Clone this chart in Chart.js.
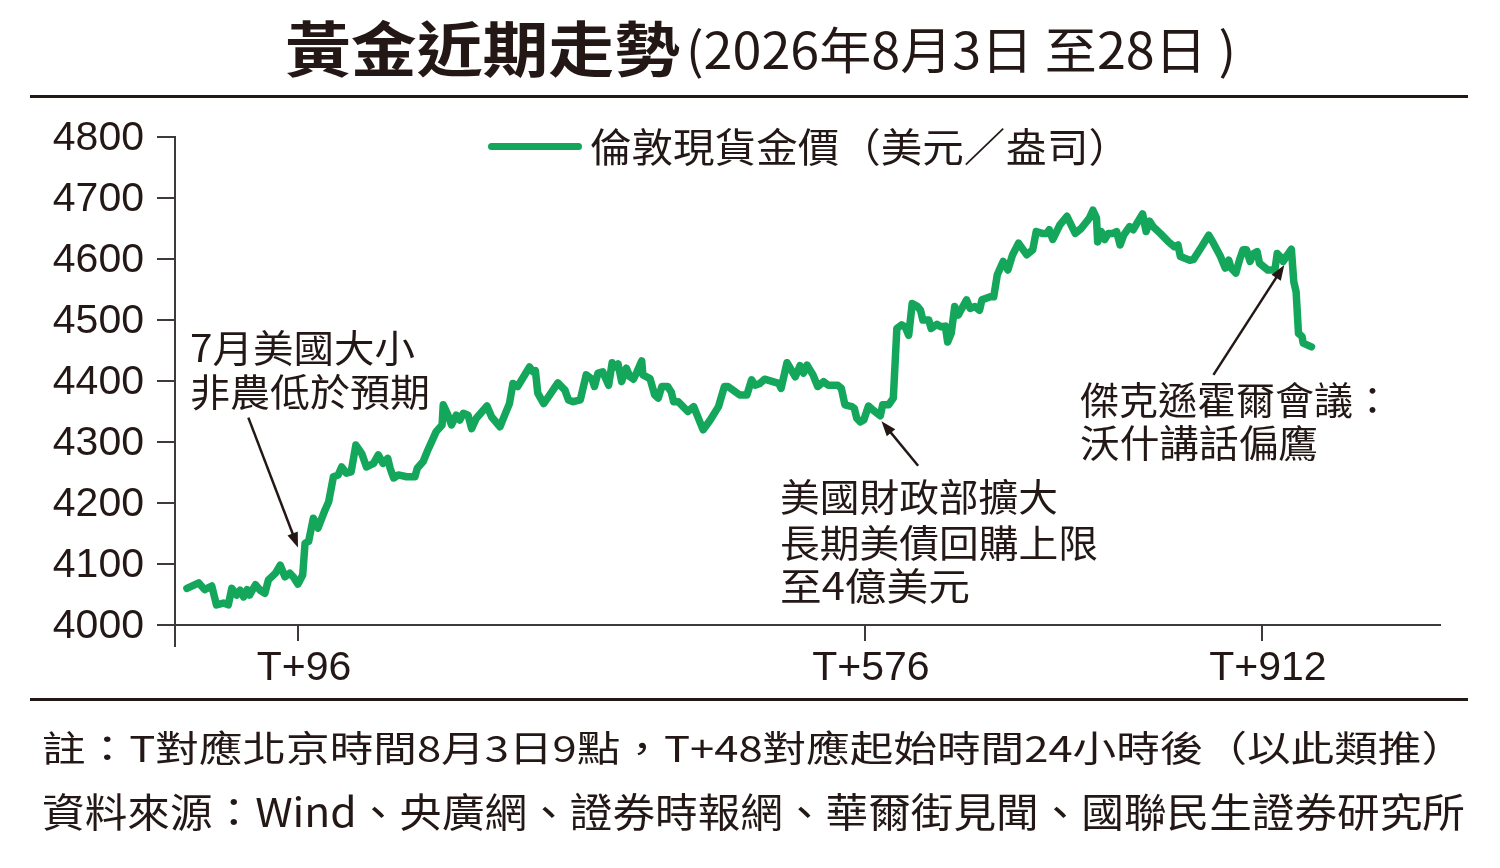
<!DOCTYPE html>
<html><head><meta charset="utf-8">
<script src="https://cdn.jsdelivr.net/npm/chart.js@4.4.1/dist/chart.umd.min.js"></script>
<style>
html,body{margin:0;padding:0;background:#fff}
body{width:1500px;height:868px;overflow:hidden;position:relative;color:#231815;font-family:"Noto Sans CJK TC","Noto Sans",sans-serif}
#c{position:absolute;left:0;top:0}
.t{position:absolute;white-space:nowrap}
.rule{position:absolute;left:30px;width:1438px;height:3px;background:#231815}
#sw{position:absolute;left:488px;top:143px;width:94px;height:7px;border-radius:4px;background:#14a65b}
</style></head><body>
<canvas id="c" width="1500" height="868"></canvas>
<div class="rule" style="top:95px"></div>
<div class="rule" style="top:698px"></div>
<div id="sw"></div>
<script>
// ---- data ----
const hours = [2,12,17,23,27,33,37,40,44,47,50,53,55,60,64,68,71,77,81,85,89,92,96,100,102,105,109,113,119,122,126,130,133,137,141,145,150,154,160,164,168,172,174,177,181,188,195,197,202,206,213,218,219,223,226,230,233,236,240,243,247,256,260,267,271,275,278,282,287,292,295,297,299,304,308,316,322,325,329,335,340,345,347,350,354,359,362,364,367,370,374,377,380,383,387,388,394,398,401,404,409,412,414,418,422,426,431,439,445,452,457,460,470,476,480,483,487,491,498,503,505,510,517,521,524,527,532,536,541,545,553,556,559,565,567,569,572,575,579,583,589,591,596,600,603,607,610,613,616,620,623,625,630,632,637,640,644,646,649,652,655,658,662,665,669,673,675,682,685,688,693,697,701,706,710,713,718,721,726,730,732,735,741,747,754,759,766,769,772,773,776,779,782,786,789,792,795,800,803,811,814,817,820,826,833,838,841,843,851,854,861,867,871,877,881,884,886,890,893,896,899,902,905,908,910,917,923,925,929,930,933,937,939,941,943,946,947,954];
const goldPrice = [4060,4069,4058,4064,4033,4036,4033,4060,4049,4057,4046,4058,4049,4066,4057,4052,4074,4085,4098,4079,4085,4079,4067,4082,4134,4137,4175,4159,4189,4202,4243,4246,4259,4249,4251,4295,4281,4259,4265,4279,4265,4273,4257,4241,4246,4243,4243,4257,4268,4287,4317,4328,4361,4344,4328,4344,4336,4347,4344,4322,4339,4359,4341,4325,4344,4363,4396,4391,4407,4423,4415,4417,4380,4363,4374,4397,4385,4369,4366,4369,4410,4403,4391,4413,4415,4393,4430,4423,4428,4399,4421,4407,4403,4415,4433,4410,4404,4377,4372,4391,4391,4382,4366,4366,4358,4350,4358,4320,4336,4358,4391,4391,4377,4377,4402,4393,4396,4403,4399,4396,4388,4430,4407,4425,4413,4426,4410,4391,4399,4393,4393,4388,4361,4358,4355,4339,4333,4336,4359,4352,4343,4361,4361,4372,4486,4492,4489,4475,4527,4523,4516,4500,4500,4486,4493,4489,4490,4464,4478,4522,4508,4519,4533,4519,4522,4516,4533,4538,4538,4574,4596,4582,4607,4626,4615,4607,4615,4645,4642,4642,4648,4632,4656,4670,4642,4650,4667,4680,4667,4628,4645,4632,4642,4642,4645,4623,4639,4653,4648,4674,4645,4662,4653,4642,4628,4620,4623,4604,4598,4599,4620,4639,4626,4604,4585,4598,4585,4577,4598,4615,4615,4596,4609,4612,4593,4582,4582,4609,4601,4596,4605,4616,4563,4546,4478,4473,4462,4456];
const yTickValues = [4000,4100,4200,4300,4400,4500,4600,4700,4800];
const xTickValues = [96,576,912];
const xTickLabels = ['T+96','T+576','T+912'];
const seriesName = '倫敦現貨金價（美元／盎司）';
// annotation arrows: [from hour, from price] -> [to hour, to price]
const arrowFrom = [[54,4340],[621,4261],[871,4410]];
const arrowTo   = [[96,4127],[590,4334],[931,4590]];

const GREEN = '#14a65b', INK = '#231815', AXIS = '#3e3a39';

function placeText(txt, left, right, cy, size, weight, family){
  const d = document.createElement('div');
  d.className = 't';
  d.textContent = txt;
  d.style.left = left + 'px';
  d.style.top = (cy - size*0.556) + 'px';
  d.style.fontSize = size + 'px';
  d.style.lineHeight = size + 'px';
  d.style.fontWeight = weight || 400;
  if (family) d.style.fontFamily = family;
  d.style.transformOrigin = '0 50%';
  document.body.appendChild(d);
  const w = d.getBoundingClientRect().width;
  if (right) d.style.transform = 'scaleX(' + ((right-left)/w) + ')';
  return d;
}

const CJK = '"Noto Sans CJK TC","Noto Sans CJK SC",sans-serif';
placeText('黃金近期走勢', 285, 680, 49, 60, 700, CJK);
placeText('(2026年8月3日 至28日 )', 686, 1236, 50, 50, 400, CJK);
placeText(seriesName, 590, 1130, 147, 40, 400, CJK);
placeText('7月美國大小', 190, 415, 348, 38, 400, CJK);
placeText('非農低於預期', 190, 430, 392, 38, 400, CJK);
placeText('美國財政部擴大', 780, 1058, 497, 38, 400, CJK);
placeText('長期美債回購上限', 780, 1098, 543, 38, 400, CJK);
placeText('至4億美元', 780, 970, 586, 38, 400, CJK);
placeText('傑克遜霍爾會議：', 1080, 1392, 400, 38, 400, CJK);
placeText('沃什講話偏鷹', 1080, 1318, 443, 38, 400, CJK);
placeText('註：T對應北京時間8月3日9點，T+48對應起始時間24小時後（以此類推）', 42, 1465, 748, 36, 400, CJK);
placeText('資料來源：Wind、央廣網、證券時報網、華爾街見聞、國聯民生證券研究所', 42, 1465, 812, 40, 400, CJK);

const extras = {
  id: 'extras',
  afterDatasetsDraw(chart){
    const {ctx, chartArea, scales:{x, y}} = chart;
    ctx.save();
    // y axis extension below x axis
    ctx.strokeStyle = AXIS; ctx.lineWidth = 2;
    ctx.beginPath();
    ctx.moveTo(chartArea.left, chartArea.bottom);
    ctx.lineTo(chartArea.left, chartArea.bottom + 22);
    ctx.stroke();
    // arrows
    ctx.strokeStyle = INK; ctx.fillStyle = INK; ctx.lineWidth = 2.5;
    for (let i = 0; i < arrowFrom.length; i++){
      const x1 = x.getPixelForValue(arrowFrom[i][0]), y1 = y.getPixelForValue(arrowFrom[i][1]);
      const x2 = x.getPixelForValue(arrowTo[i][0]),   y2 = y.getPixelForValue(arrowTo[i][1]);
      const a = Math.atan2(y2-y1, x2-x1), c = Math.cos(a), s = Math.sin(a);
      const hl = 15, hw = 5.5;
      ctx.beginPath();
      ctx.moveTo(x1, y1);
      ctx.lineTo(x2 - hl*0.7*c, y2 - hl*0.7*s);
      ctx.stroke();
      ctx.beginPath();
      ctx.moveTo(x2, y2);
      ctx.lineTo(x2 - hl*c + hw*s, y2 - hl*s - hw*c);
      ctx.lineTo(x2 - hl*c - hw*s, y2 - hl*s + hw*c);
      ctx.closePath();
      ctx.fill();
    }
    ctx.restore();
  }
};

new Chart(document.getElementById('c'), {
  type: 'line',
  data: {
    datasets: [{
      label: seriesName,
      data: hours.map((h, i) => ({x: h, y: goldPrice[i]})),
      borderColor: GREEN,
      borderWidth: 7.5,
      borderJoinStyle: 'round',
      borderCapStyle: 'round',
      pointRadius: 0,
      tension: 0,
      fill: false
    }]
  },
  options: {
    responsive: false,
    animation: false,
    devicePixelRatio: 1,
    layout: {padding: {left: 0, top: 137, right: 60, bottom: 0}},
    plugins: {legend: {display: false}, tooltip: {enabled: false}},
    scales: {
      x: {
        type: 'linear', min: -8.1, max: 1062.8,
        afterBuildTicks(s){ s.ticks = xTickValues.map(v => ({value: v})); },
        afterFit(s){ s.height = 243; },
        ticks: {
          callback: (v, i) => xTickLabels[i],
          font: {family: '"Liberation Sans", Arial, sans-serif', size: 41},
          color: INK, padding: 3, maxRotation: 0, autoSkip: false, labelOffset: 6
        },
        grid: {drawOnChartArea: false, drawTicks: true, tickLength: 16, color: AXIS, lineWidth: 2},
        border: {display: true, color: AXIS, width: 2}
      },
      y: {
        min: 4000, max: 4800,
        afterBuildTicks(s){ s.ticks = yTickValues.map(v => ({value: v})); },
        afterFit(s){ s.width = 175; },
        ticks: {
          callback: v => String(v),
          font: {family: '"Liberation Sans", Arial, sans-serif', size: 41},
          color: INK, padding: 13, labelOffset: 2
        },
        grid: {drawOnChartArea: false, drawTicks: true, tickLength: 18, color: AXIS, lineWidth: 2},
        border: {display: true, color: AXIS, width: 2}
      }
    }
  },
  plugins: [extras]
});
</script>
</body></html>
